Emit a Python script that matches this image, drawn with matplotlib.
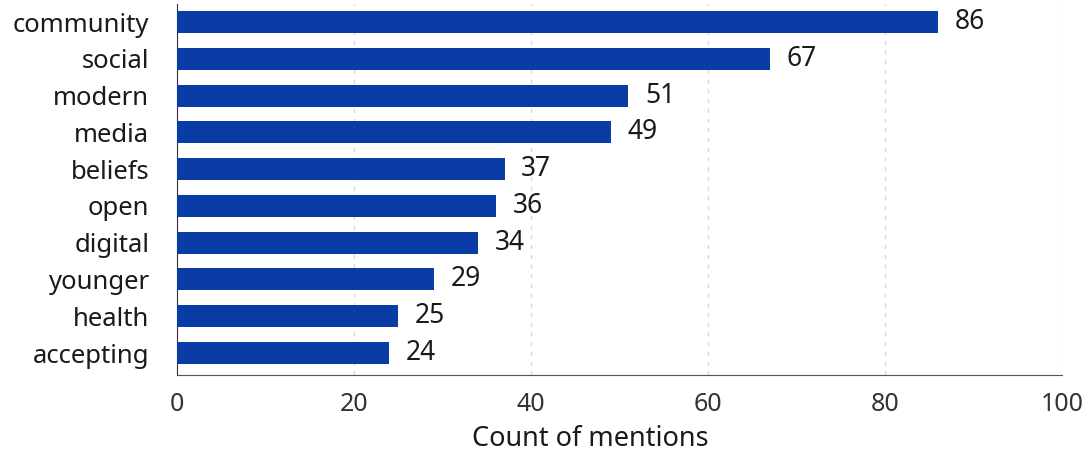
import matplotlib.pyplot as plt

# data (top to bottom as shown)
words = ['community', 'social', 'modern', 'media', 'beliefs',
         'open', 'digital', 'younger', 'health', 'accepting']
counts = [86, 67, 51, 49, 37, 36, 34, 29, 25, 24]
xticks = [0, 20, 40, 60, 80, 100]

plt.rcParams['font.family'] = ['Noto Sans', 'DejaVu Sans']

fig = plt.figure(figsize=(10.86, 4.53), dpi=100)
ax = fig.add_axes([0.163, 0.172, 0.815, 0.82])

ypos = list(range(len(words)))[::-1]
bars = ax.barh(ypos, counts, height=0.6, color='#0a3ca6', zorder=3)

for y, v in zip(ypos, counts):
    ax.annotate(str(v), (v, y), xytext=(12, 0), textcoords='offset points',
                va='center', ha='left', fontsize=19, color='#1a1a1a')

ax.set_yticks(ypos)
ax.set_yticklabels(words, fontsize=18.5, color='#1a1a1a')
ax.set_xticks(xticks)
ax.set_xticklabels([str(t) for t in xticks], fontsize=18, color='#333333')
ax.set_xlim(0, 100)
ax.set_ylim(-0.6, 9.5)
ax.tick_params(length=0, pad=12)
ax.tick_params(axis='y', pad=20)
ax.set_xlabel('Count of mentions', fontsize=19.5, color='#1a1a1a',
              fontweight='medium')
ax.xaxis.set_label_coords(0.467, -0.135)

ax.grid(axis='x', linestyle=(0, (3, 4)), color='#d8d8d8', linewidth=1, zorder=0)
for s in ['top', 'right']:
    ax.spines[s].set_visible(False)
ax.spines['left'].set_color('#333333')
ax.spines['bottom'].set_color('#555555')

fig.savefig('out.png', dpi=100)
